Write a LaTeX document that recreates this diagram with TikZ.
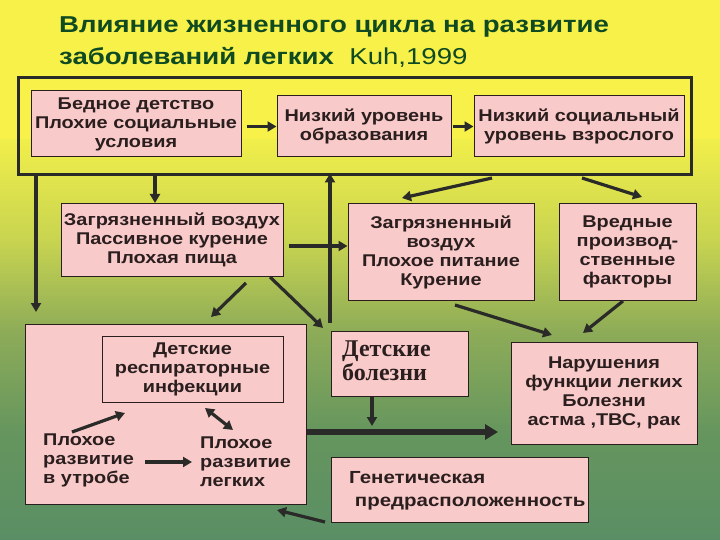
\documentclass[tikz,border=0pt]{standalone}
\usepackage{fontspec}
\setmainfont{Liberation Sans}
\newfontfamily\boxfont{Liberation Sans}[FakeStretch=1.17]
\newfontfamily\titlefont{Liberation Sans}[FakeStretch=1.2]
\newfontfamily\serifru{Liberation Serif}
\usetikzlibrary{arrows.meta}
\definecolor{pinkbox}{HTML}{F9CACA}
\definecolor{txt}{HTML}{2B1E1E}
\definecolor{ttl}{HTML}{0F4A22}
\definecolor{arr}{HTML}{2A2A28}
\definecolor{bg0}{HTML}{F7F14A}
\definecolor{bg1}{HTML}{F0EE4A}
\definecolor{bg2}{HTML}{C8D450}
\definecolor{bg3}{HTML}{8EAC58}
\definecolor{bg4}{HTML}{66965E}
\definecolor{bg5}{HTML}{5A8E64}
\tikzset{
  box/.style={draw=txt, line width=1pt, fill=pinkbox, text=txt, inner sep=0pt, align=center,
    font=\boxfont\bfseries\fontsize{17}{19}\selectfont},
  conn/.style={draw=arr, line width=3.2pt, -{Triangle[length=9pt,width=10pt]}},
  dconn/.style={draw=arr, line width=3.2pt, {Triangle[length=9pt,width=10pt]}-{Triangle[length=9pt,width=10pt]}},
  thick conn/.style={draw=arr, line width=6pt, -{Triangle[length=13pt,width=15pt]}},
  plain/.style={text=txt, inner sep=0pt, align=left, font=\boxfont\bfseries\fontsize{17}{19}\selectfont},
}
\begin{document}
\begin{tikzpicture}[x=1pt,y=-1pt]
\useasboundingbox (0,0) rectangle (720,540);
% background gradient
\fill[bg0] (0,0) rectangle (720,141);
\shade[top color=bg1, bottom color=bg2] (0,140) rectangle (720,241);
\shade[top color=bg2, bottom color=bg3] (0,240) rectangle (720,331);
\shade[top color=bg3, bottom color=bg4] (0,330) rectangle (720,431);
\shade[top color=bg4, bottom color=bg5] (0,430) rectangle (720,540);
% title
\node[anchor=base west, inner sep=0pt, text=ttl, font=\titlefont\bfseries\fontsize{23}{26}\selectfont] (t1) at (59,33) {Влияние жизненного цикла на развитие};
\node[anchor=base west, inner sep=0pt, text=ttl, font=\titlefont\fontsize{23}{26}\selectfont] (t2) at (59,65) {\textbf{заболеваний легких}\ \ Kuh,1999};
% outer frame
\node[draw=arr, line width=3pt, minimum width=673pt, minimum height=97pt, inner sep=0pt] (frame) at (354.5,126.5) {};
% top row
\node[box, minimum width=210pt, minimum height=66pt] (A) at (136,124) {Бедное детство\\Плохие социальные\\условия};
\node[box, minimum width=174pt, minimum height=61pt] (B) at (364,126.5) {Низкий уровень\\образования};
\node[box, minimum width=210pt, minimum height=61pt] (C) at (579,126.5) {Низкий социальный\\уровень взрослого};
% middle row
\node[box, minimum width=222pt, minimum height=72pt] (D) at (172,240) {Загрязненный воздух\\Пассивное курение\\Плохая пища};
\node[box, minimum width=186pt, minimum height=96pt] (E) at (441,252) {Загрязненный\\воздух\\Плохое питание\\Курение};
\node[box, minimum width=137pt, minimum height=96pt] (F) at (627.5,252) {Вредные\\производ-\\ственные\\факторы};
% big box G
\node[box, minimum width=281pt, minimum height=180pt] (G) at (165.5,414) {};
\node[box, minimum width=181pt, minimum height=66pt] (R) at (192.5,369) {Детские\\респираторные\\инфекции};
\node[plain, anchor=north west] (U) at (43,434) {Плохое\\развитие\\в утробе};
\node[plain, anchor=north west] (L) at (200,437) {Плохое\\развитие\\легких};
% H
\node[box, minimum width=137pt, minimum height=65pt] (H) at (399.5,363.5) {};
\node[anchor=north west, inner sep=0pt, align=left, text=txt, font=\serifru\bfseries\fontsize{24}{22}\selectfont] (Ht) at (342,341) {Детские\\болезни};
% I
\node[box, minimum width=186pt, minimum height=102pt] (I) at (604,393) {Нарушения\\функции легких\\Болезни\\астма ,ТВС, рак};
% J
\node[box, minimum width=257pt, minimum height=65pt] (J) at (459.5,489.5) {};
\node[plain, anchor=north west, font=\boxfont\bfseries\fontsize{17.5}{23}\selectfont] (Jt) at (349,471) {Генетическая\\\ предрасположенность};
% helper coordinates
\coordinate (p1) at (36,312);
\coordinate (p2) at (155,203);
\coordinate (p3) at (330,323);
\coordinate (e1) at (492,178);
\coordinate (e2) at (402,198);
\coordinate (f1) at (582,178);
\coordinate (f2) at (642,197);
\coordinate (d1) at (246,283);
\coordinate (d2) at (211,317);
\coordinate (d3) at (270,277);
\coordinate (d4) at (323,328);
\coordinate (i1) at (455,305);
\coordinate (i2) at (552,335);
\coordinate (i3) at (623,301);
\coordinate (i4) at (583,333);
\coordinate (g1) at (306,432);
\coordinate (g2) at (498,432);
\coordinate (h2) at (372,426);
\coordinate (j1) at (325,522);
\coordinate (j2) at (277,510);
\coordinate (u1) at (72,432);
\coordinate (u2) at (125,413);
\coordinate (u3) at (145,462);
\coordinate (u4) at (192,462);
\coordinate (r1) at (205,408);
\coordinate (r2) at (233,430);
\coordinate (m1) at (0,246);
% connectors
\draw[conn] ([xshift=5pt]A.east |- B.center) -- (B.west);
\draw[conn] ([xshift=1pt]B.east) -- (C.west);
\draw[conn] (frame.south -| p1) -- (p1);
\draw[conn] (frame.south -| p2) -- (p2);
\draw[conn] (p3) -- ([yshift=3pt]frame.south -| p3);
\draw[conn] ([xshift=5pt]D.east |- m1) -- (E.west |- m1);
\draw[conn] (e1) -- (e2);
\draw[conn] (f1) -- (f2);
\draw[conn] (d1) -- (d2);
\draw[conn] (d3) -- (d4);
\draw[conn] (i1) -- (i2);
\draw[conn] (i3) -- (i4);
\draw[thick conn] (G.east |- g1) -- (g2);
\draw[conn] (H.south -| h2) -- (h2);
\draw[conn] (j1) -- (j2);
\draw[conn] (u1) -- (u2);
\draw[conn] (u3) -- (u4);
\draw[dconn] (r1) -- (r2);
\end{tikzpicture}
\end{document}
